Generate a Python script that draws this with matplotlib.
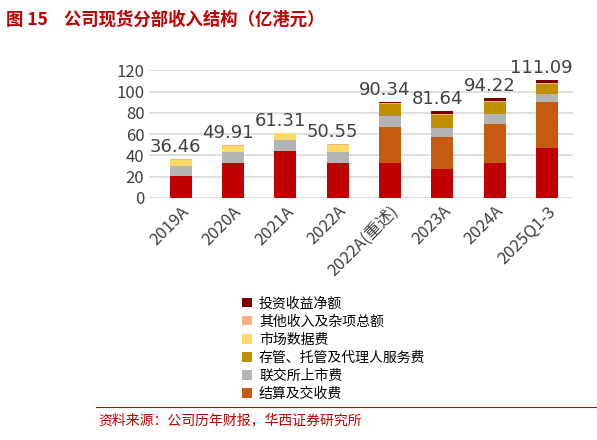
import matplotlib
matplotlib.use("Agg")
import matplotlib.pyplot as plt
import numpy as np

plt.rcParams['font.family'] = ['Noto Sans CJK SC', 'DejaVu Sans']

categories = ["2019A", "2020A", "2021A", "2022A", "2022A(重述)", "2023A", "2024A", "2025Q1-3"]
totals = [36.46, 49.91, 61.31, 50.55, 90.34, 81.64, 94.22, 111.09]
trading = [20.5, 33.1, 44.5, 33.1, 33.1, 27.4, 33.1, 47.3]
clearing = [0, 0, 0, 0, 33.8, 30.3, 36.9, 42.7]
listing = [9.8, 10.4, 10.1, 10.4, 10.1, 8.5, 9.2, 7.5]
custody = [0, 0, 0, 0, 11.5, 11.7, 10.8, 9.5]
market_data = [5.0, 5.6, 6.3, 6.3, 0, 0, 0, 0]
other = [1.16, 0.81, 0.41, 0.75, 0.7, 1.0, 1.2, 1.5]
invest = [0, 0, 0, 0, 1.14, 2.74, 3.02, 2.59]

series = [
    (trading, "#C00000", None),
    (clearing, "#C55A11", "结算及交收费"),
    (listing, "#B4B4B4", "联交所上市费"),
    (custody, "#BF9000", "存管、托管及代理人服务费"),
    (market_data, "#FFD966", "市场数据费"),
    (other, "#F4B183", "其他收入及杂项总额"),
    (invest, "#7B0000", "投资收益净额"),
]

fig = plt.figure(figsize=(5.97, 4.4), dpi=100)
ax = fig.add_axes([0.25, 0.55, 0.71, 0.29])
x = np.arange(len(categories))
bottom = np.zeros(len(categories))
handles = {}
for vals, color, label in series:
    b = ax.bar(x, vals, 0.42, bottom=bottom, color=color, zorder=3)
    if label:
        handles[label] = b
    bottom += np.array(vals)
for xi, t, top in zip(x, totals, bottom):
    ax.text(xi - 0.1, top + 3, f"{t:.2f}", ha="center", va="bottom", fontsize=13,
            color="#404040", family="DejaVu Sans", clip_on=False)
ax.set_ylim(0, 120)
ax.set_xlim(-0.6, len(categories) - 0.5)
ax.set_yticks(range(0, 121, 20))
ax.yaxis.grid(True, color="#D9D9D9", lw=1.2, zorder=0)
for s in ax.spines.values():
    s.set_visible(False)
ax.tick_params(length=0, labelsize=12, colors="#404040")
ax.set_xticks(x)
ax.set_xticklabels(categories, rotation=45, ha="right", rotation_mode="anchor", fontsize=12)

order = ["投资收益净额", "其他收入及杂项总额", "市场数据费", "存管、托管及代理人服务费", "联交所上市费", "结算及交收费"]
fig.legend([handles[k] for k in order], order, loc="upper left", bbox_to_anchor=(0.385, 0.355),
           frameon=False, fontsize=10, handlelength=0.7, handleheight=0.7, labelspacing=0.3,
           handletextpad=0.5)

fig.text(0.01, 0.955, "图 15    公司现货分部收入结构（亿港元）", fontsize=12.5, color="#C00000",
         va="center", fontweight="bold")
fig.text(0.165, 0.045, "资料来源：公司历年财报，华西证券研究所", fontsize=10, color="#C00000", va="center")
fig.add_artist(plt.Line2D([0.16, 1.0], [0.075, 0.075], color="#C00000", lw=0.8))
fig.savefig("out.png", dpi=100)
